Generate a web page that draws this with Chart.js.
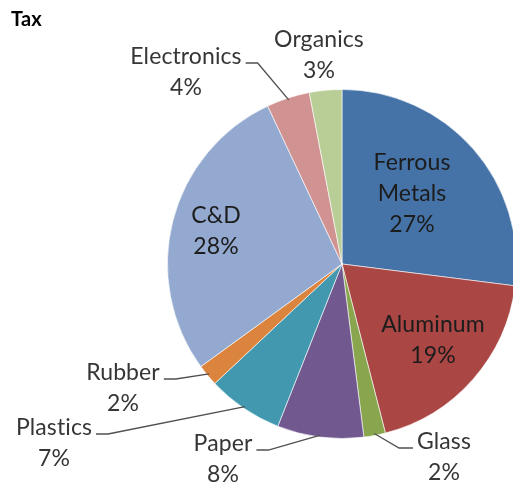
<!DOCTYPE html>
<html>
<head>
<meta charset="utf-8">
<script src="https://cdn.jsdelivr.net/npm/chart.js@4"></script>
<style>
  html, body { margin: 0; padding: 0; background: #fff; overflow: hidden; }
  #wrap { position: relative; width: 513px; height: 487px; overflow: hidden; }
  #wrap canvas { position: absolute; left: 0; top: 0; }
</style>
</head>
<body>
<div id="wrap"><canvas id="pie" width="530" height="487"></canvas></div>
<script>
const categories = ["Ferrous Metals", "Aluminum", "Glass", "Paper", "Plastics", "Rubber", "C&D", "Electronics", "Organics"];
const shares = [27, 19, 2, 8, 7, 2, 28, 4, 3];
const colors = ["#4572A7", "#AA4643", "#89A54E", "#71588F", "#4198AF", "#DB843D", "#93A9CF", "#D19392", "#B9CD96"];

// label text lines; placement = centre of first line, offset from pie centre (px)
const labelLines = [["Ferrous", "Metals"], ["Aluminum"], ["Glass"], ["Paper"], ["Plastics"], ["Rubber"], ["C&D"], ["Electronics"], ["Organics"]];
const labelPlace = [
  { dx: 70, dy: -101, inside: true },
  { dx: 91, dy: 61, inside: true },
  { dx: 102, dy: 178, leader: true, side: "right" },
  { dx: -119, dy: 180, leader: true, side: "left" },
  { dx: -288, dy: 164, leader: true, side: "left" },
  { dx: -219, dy: 109, leader: true, side: "left" },
  { dx: -126, dy: -48, inside: true },
  { dx: -156, dy: -207, leader: true, side: "left" },
  { dx: -23, dy: -224 },
];

const FONT = "23px Lato, sans-serif";
const LH = 31;

const labelPlugin = {
  id: "pieLabels",
  afterDatasetsDraw(chart) {
    const ctx = chart.ctx;
    const meta = chart.getDatasetMeta(0);
    ctx.save();
    ctx.font = FONT;
    ctx.letterSpacing = "0.1px"; // keeps "ti" from turning into a ligature
    ctx.textAlign = "center";
    ctx.textBaseline = "middle";
    meta.data.forEach((arc, i) => {
      const { x, y, outerRadius, startAngle, endAngle } = arc.getProps(["x", "y", "outerRadius", "startAngle", "endAngle"], true);
      const p = labelPlace[i];
      const lines = labelLines[i].concat([shares[i] + "%"]);
      const cx = x + p.dx, top = y + p.dy;
      ctx.fillStyle = p.inside ? "#1c1c1c" : "#363636";
      lines.forEach((t, k) => ctx.fillText(t, cx, top + k * LH));
      if (p.leader) {
        const mid = (startAngle + endAngle) / 2;
        const ax = x + Math.cos(mid) * (outerRadius - 2);
        const ay = y + Math.sin(mid) * (outerRadius - 2);
        const w = ctx.measureText(lines[0]).width;
        const ex = p.side === "left" ? cx + w / 2 + 4 : cx - w / 2 - 4;
        const ey = top + 6;
        const kx = p.side === "left" ? ex + 12 : ex - 14;
        ctx.strokeStyle = "#505050";
        ctx.lineWidth = 1.3;
        ctx.beginPath();
        ctx.moveTo(ax, ay);
        ctx.lineTo(kx, ey);
        ctx.lineTo(ex, ey);
        ctx.stroke();
      }
    });
    // title
    ctx.font = "bold 20px Lato, sans-serif";
    ctx.textAlign = "left";
    ctx.fillStyle = "#000";
    ctx.fillText("Tax", 11, 20);
    ctx.restore();
  }
};

new Chart(document.getElementById("pie"), {
  type: "pie",
  data: {
    labels: categories,
    datasets: [{
      data: shares,
      backgroundColor: colors,
      borderColor: "rgba(255,255,255,0.6)",
      borderWidth: 1,
    }]
  },
  options: {
    responsive: false,
    animation: false,
    layout: { padding: { left: 167, right: 13, top: 89, bottom: 48 } },
    plugins: { legend: { display: false }, tooltip: { enabled: false } }
  },
  plugins: [labelPlugin]
});
</script>
</body>
</html>
